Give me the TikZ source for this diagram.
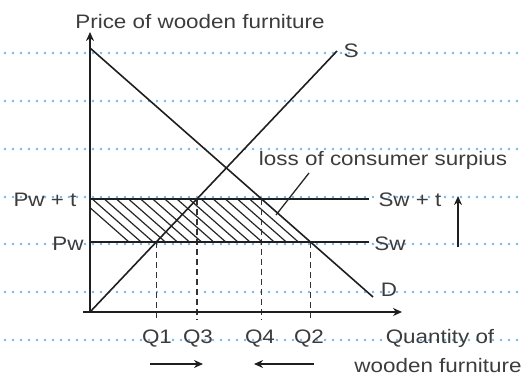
\documentclass[tikz,border=0pt]{standalone}
\usepackage{fontspec}
\newfontfamily\hand{Liberation Sans}
\newcommand{\hw}[1]{\scalebox{1.15}[1]{#1}}
\usetikzlibrary{arrows.meta,calc}
\definecolor{dotblue}{HTML}{6DB6EA}
\definecolor{inkgray}{HTML}{3C3C3C}
\begin{document}
\begin{tikzpicture}[x=1pt,y=-1pt,>=Stealth,
  grid/.style={dotblue,line width=2.7pt,line cap=round,dash pattern=on 0pt off 8pt},
  ln/.style={line width=1.6pt,black!88},
  a/.style={-{Stealth[length=9pt,width=8pt]},line width=1.6pt,black!88},
  guide/.style={line width=1.2pt,black!80,dash pattern=on 6pt off 4pt},
  hatch/.style={line width=1.2pt,black!85},
  lab/.style={font=\hand\fontsize{19.5}{22}\selectfont,text=inkgray,inner sep=0pt,anchor=base}]
\useasboundingbox (0,0) rectangle (524,380);
\foreach \y in {53,101,149,197,244,292,340} \draw[grid] (5,\y) -- (520,\y);
\coordinate (O) at (90,312); \coordinate (ytop) at (90,32);
\coordinate (xbeg) at (83,312); \coordinate (xend) at (402,312);
\coordinate (d0) at (90,48); \coordinate (d1) at (373,297);
\coordinate (s1) at (337,51);
\coordinate (pt0) at (90,199); \coordinate (pt1) at (369,199);
\coordinate (pw0) at (90,242); \coordinate (pw1) at (369,242);
\coordinate (base) at (0,320);
\coordinate (q1) at (intersection of O--s1 and pw0--pw1);
\coordinate (q3) at (intersection of O--s1 and pt0--pt1);
\coordinate (q4) at (intersection of d0--d1 and pt0--pt1);
\coordinate (q2) at (intersection of d0--d1 and pw0--pw1);
\begin{scope}
  \clip (pt0) -- (q4) -- (q2) -- (pw0) -- cycle;
  \foreach \k in {1,...,15} \draw[hatch] ($(q4)+(-12.1*\k,0)$) -- ($(q2)+(-12.1*\k,0)$);
\end{scope}
\draw[guide] (q1) -- (q1 |- base); \draw[guide] (q3) -- (q3 |- base);
\draw[guide] (q4) -- (q4 |- base); \draw[guide] (q2) -- (q2 |- base);
\draw[ln] (pt0) -- (pt1); \draw[ln] (pw0) -- (pw1);
\draw[ln] (d0) -- (d1); \draw[ln] (O) -- (s1);
\draw[a] (O) -- (ytop); \draw[a] (xbeg) -- (xend);
\node[lab] (ptitle) at (200,28) {\hw{Price of wooden furniture}};
\node[lab] (slab) at (351,57) {\hw{S}};
\node[lab] (dlab) at (389,296) {\hw{D}};
\node[lab] (loss) at (383,165) {\hw{loss of consumer surpius}};
\node[lab] (pwt) at (45,206) {\hw{Pw + t}};
\node[lab] (pw) at (68,250) {\hw{Pw}};
\node[lab] (swt) at (410,206) {\hw{Sw + t}};
\node[lab] (sw) at (390,250) {\hw{Sw}};
\node[lab] (lq1) at (157,343) {\hw{Q1}};
\node[lab] (lq3) at (198,343) {\hw{Q3}};
\node[lab] (lq4) at (260,343) {\hw{Q4}};
\node[lab] (lq2) at (309,343) {\hw{Q2}};
\node[lab] (qlab) at (440,343) {\hw{Quantity of}};
\node[lab] (qlab2) at (438,372) {\hw{wooden furniture}};
\coordinate (lead0) at (309,173); \coordinate (lead1) at (276,215);
\draw[line width=1.3pt,black!85] (lead0) -- (lead1);
\coordinate (up0) at (458,247); \coordinate (up1) at (458,196);
\draw[a] (up0) -- (up1);
\coordinate (r0) at (150,364); \coordinate (r1) at (203,364);
\coordinate (l0) at (314,364); \coordinate (l1) at (254,364);
\draw[a] (r0) -- (r1); \draw[a] (l0) -- (l1);
\end{tikzpicture}
\end{document}
